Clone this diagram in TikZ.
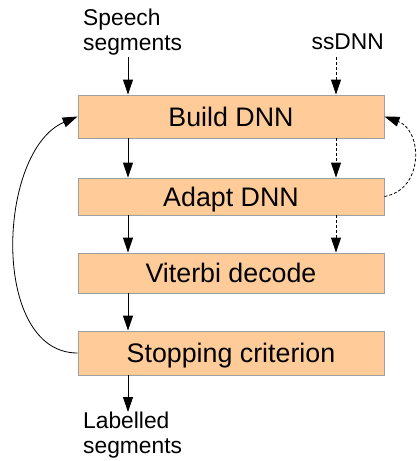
\documentclass[tikz,border=0pt]{standalone}
\usepackage{fontspec}
\setmainfont{Liberation Sans}
\usetikzlibrary{arrows.meta}
\definecolor{boxfill}{HTML}{FFCC99}
\definecolor{boxline}{HTML}{A0A0A0}
\begin{document}
\begin{tikzpicture}[x=1pt,y=1pt,
  stepbox/.style={draw=boxline,fill=boxfill,line width=0.9pt,minimum width=306pt,inner sep=0pt,
    font=\fontsize{26.8}{30}\selectfont,text height=19.2pt,text depth=0pt},
  lbl/.style={inner sep=0pt,align=left,font=\fontsize{22.8}{25}\selectfont},
  arr/.style={line width=0.9pt,-{Triangle[length=15pt,width=10pt]}},
  darr/.style={arr,dash pattern=on 3pt off 2pt}]
\useasboundingbox (0,0) rectangle (416,-461);
\node[stepbox,minimum height=43pt] (build) at (231,-116.5) {Build DNN};
\node[stepbox,minimum height=37pt] (adapt) at (231,-196.5) {Adapt DNN};
\node[stepbox,minimum height=40pt] (viterbi) at (231,-273) {Viterbi decode};
\node[stepbox,minimum height=44pt] (stop) at (231,-353) {Stopping criterion};
\node[lbl,anchor=north west] (speech) at (83,-9) {Speech\\segments};
\node[lbl,anchor=base east] (ssdnn) at (384,-49.5) {ssDNN};
\node[lbl,anchor=north west] (labelled) at (83,-412) {Labelled\\segments};
\coordinate (sp) at (128,-57);
\coordinate (ss) at (336,-57);
\draw[arr] (sp) -- (sp |- build.north);
\draw[darr] (ss) -- (ss |- build.north);
\draw[arr] (build.south -| sp) -- (adapt.north -| sp);
\draw[darr] (build.south -| ss) -- (adapt.north -| ss);
\draw[arr] (adapt.south -| sp) -- (viterbi.north -| sp);
\draw[darr] (adapt.south -| ss) -- (viterbi.north -| ss);
\draw[arr] (viterbi.south -| sp) -- (stop.north -| sp);
\draw[arr] (stop.south -| sp) -- (labelled.north -| sp);
\draw[arr,line width=0.8pt] (stop.west) to[out=180,in=203,looseness=0.95] (build.west);
\draw[darr,line width=0.8pt] (adapt.east) to[out=10,in=-20,looseness=1.3] (build.east);
\end{tikzpicture}
\end{document}
